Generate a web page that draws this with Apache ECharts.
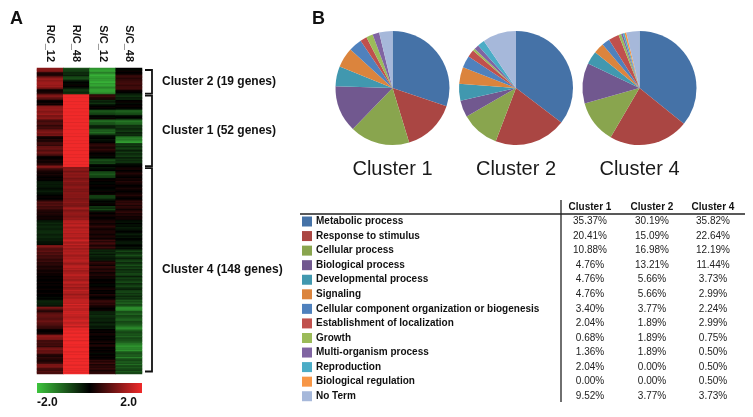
<!DOCTYPE html>
<html>
<head>
<meta charset="utf-8">
<script src="https://cdn.jsdelivr.net/npm/echarts@6/dist/echarts.min.js"></script>
<style>
html,body{margin:0;padding:0;background:#fff;}
#chart{width:753px;height:417px;}
</style>
</head>
<body>
<div id="chart"></div>
<script>
// ---------- Heatmap data ----------
const conditions = ['R/C_12', 'R/C_48', 'S/C_12', 'S/C_48'];
const clusterNames = ['Cluster 2 (19 genes)', 'Cluster 1 (52 genes)', 'Cluster 4 (148 genes)'];
const clusterSizes = [19, 52, 148];

// R/C_12
const rc12_c2 = [1.1,1.2,1.0,0.4,0.2,0.3,0.8,1.2,1.3,1.2,1.3,1.4,1.2,1.3,1.1,0.3,0.1,0.2,0.4];
const rc12_c1 = [1.0,1.1,0.9,0.6,0.1,0.0,0.2,0.1,1.1,1.2,1.3,1.2,1.1,1.2,1.3,1.0,1.1,1.2,0.6,0.5,0.7,0.6,0.4,0.6,0.5,0.9,1.0,1.1,0.9,1.0,0.2,0.1,0.3,0.2,0.5,0.6,0.4,0.8,0.9,0.8,0.7,0.9,0.8,0.6,0.1,0.0,0.1,0.2,0.1,0.3,0.4,1.1];
const rc12_c4 = [1.0,0.5,0.3,0.2,0.1,0.2,0.1,0.0,0.1,0.0,-0.2,-0.3,-0.2,-0.3,-0.2,-0.1,-0.2,-0.3,-0.2,-0.1,0.0,0.1,0.0,0.1,0.5,0.7,0.6,0.7,0.5,0.6,0.4,0.3,0.2,0.3,0.2,0.1,0.2,0.1,-0.2,-0.3,-0.4,-0.3,-0.4,-0.4,-0.3,-0.4,-0.5,-0.4,-0.3,-0.4,-0.4,-0.3,-0.3,-0.2,-0.2,-0.1,1.2,0.9,0.7,0.7,0.8,0.6,0.7,0.5,0.6,0.5,0.4,0.5,0.3,0.4,0.3,0.2,0.3,0.2,0.1,0.2,0.1,0.1,0.0,0.1,0.0,0.0,0.1,0.0,0.1,0.0,0.0,0.1,0.0,0.0,0.1,0.0,0.0,-0.1,0.0,-0.3,-0.4,-0.3,-0.3,-0.2,1.0,0.9,0.4,0.3,0.7,0.8,0.9,0.8,0.7,0.8,0.9,0.8,0.7,0.6,0.5,0.4,0.1,0.0,0.1,0.2,1.1,1.2,1.1,1.0,0.5,0.6,0.5,0.6,0.4,0.9,1.0,0.8,0.9,0.7,0.3,0.2,0.4,0.3,0.2,0.3,0.5,1.0,1.1,0.9,0.6,0.5,0.7,0.6];

// R/C_48
const rc48_c2 = [-0.8,-0.7,-0.6,-0.4,-0.5,-0.3,-0.7,-0.8,-0.6,-0.2,0.0,-0.1,0.1,0.0,-0.2,-0.5,-0.6,-0.4,-0.5];
const rc48_c1 = [2.2,2.1,2.3,2.2,2.4,2.1,2.2,2.3,2.2,2.1,2.3,2.2,2.4,2.2,2.1,2.3,2.2,2.2,2.1,2.3,2.2,2.4,2.1,2.2,2.3,2.2,2.1,2.2,2.3,2.4,2.2,2.1,2.3,2.2,2.2,2.1,2.3,2.2,2.4,2.1,2.2,2.3,2.2,2.1,2.2,2.3,2.2,2.4,2.1,2.2,2.3,2.2];
const rc48_c4 = [1.1,1.2,1.1,1.0,1.2,1.1,1.2,1.1,1.0,1.1,1.2,1.1,1.0,1.1,1.2,1.1,1.1,1.0,1.2,1.1,1.1,1.2,1.0,1.1,1.1,1.2,1.1,1.0,1.1,1.4,1.2,1.1,1.2,1.3,1.2,1.1,1.3,1.2,
  1.5,1.6,1.4,1.7,1.5,1.4,1.6,1.5,1.7,1.4,1.5,1.6,1.4,1.5,1.7,1.5,1.4,1.6,
  1.4,1.5,1.3,1.5,1.4,1.6,1.4,1.3,1.5,1.4,1.6,1.5,1.4,1.3,1.5,1.7,1.4,1.5,1.3,1.4,1.5,1.6,1.4,1.5,1.3,1.4,1.6,1.5,1.4,1.5,1.3,1.4,1.6,1.5,1.4,1.3,1.5,1.4,1.6,
  1.6,1.7,1.5,1.8,1.6,1.7,1.6,1.5,1.7,1.8,1.6,1.7,1.5,1.6,1.8,1.7,1.6,1.7,1.8,1.6,1.9,
  1.9,2.0,1.9,2.1,2.0,1.9,2.0,2.1,1.9,2.0,2.2,2.0,1.9,2.1,2.0,2.0,1.9,2.1,2.0,2.2,2.0,1.9,2.0,2.1,2.0,1.9,2.0,2.1,2.0,1.9,2.0,2.1];

// S/C_12
const sc12_c2 = [-1.5,-1.7,-1.6,-1.3,-1.6,-1.8,-1.7,-1.5,-1.6,-1.7,-1.8,-1.6,-1.7,-1.5,-1.4,-1.6,-1.7,-1.5,-1.3];
const sc12_c1 = [0.4,0.5,0.3,0.2,-0.4,-0.3,-0.5,-0.2,0.0,0.1,0.0,-0.8,-0.9,-0.7,-0.6,0.0,-0.1,0.1,-1.0,-1.1,-0.9,-0.8,-0.4,-0.3,-0.5,-1.0,-0.9,-1.1,-0.7,-0.2,-0.1,0.0,-0.2,-0.1,0.0,0.3,0.4,0.3,0.2,0.4,0.3,0.1,0.0,0.1,-0.1,0.0,-0.7,-0.8,-0.6,-0.7,-0.1,0.0];
const sc12_c4 = [-0.2,-0.1,0.0,-0.7,-0.8,-0.9,-0.7,-0.6,0.0,0.1,0.0,-0.1,0.0,0.1,0.0,0.0,-0.1,0.1,0.0,0.1,-0.6,-0.7,-0.5,-0.3,0.0,-0.1,0.1,0.0,-0.6,-0.4,-0.7,-0.3,0.1,0.0,0.2,0.1,0.0,0.1,0.2,0.3,0.1,0.2,0.4,0.3,0.1,0.2,0.3,0.2,0.1,0.3,0.2,0.1,0.5,0.3,0.6,0.4,0.2,0.5,0.3,-0.4,-0.3,-0.5,-0.2,-0.4,-0.3,-0.2,-0.3,0.2,0.4,0.3,0.1,0.5,0.3,0.2,0.4,0.1,0.2,0.3,0.1,0.2,0.0,0.0,0.1,0.0,-0.1,0.0,0.1,0.2,0.0,0.1,0.0,0.3,0.1,0.0,0.1,0.4,0.5,0.3,0.4,0.2,0.1,0.0,0.1,-0.3,-0.4,-0.3,-0.5,-0.4,-0.3,-0.4,-0.3,-0.2,-0.4,-0.3,-0.2,-0.3,0.0,0.1,0.0,0.2,0.1,0.0,0.1,0.0,0.1,0.2,0.0,0.3,0.2,0.0,0.1,0.0,0.1,-0.1,0.0,0.1,0.0,0.1,0.4,0.3,0.5,0.2,0.4,0.3,0.5,0.2,0.3,0.4];

// S/C_48
const sc48_c2 = [0.0,-0.1,0.1,0.0,0.1,0.4,0.5,0.3,0.4,0.5,0.5,0.6,0.4,0.5,0.6,0.4,0.1,0.0,-0.2];
const sc48_c1 = [-0.4,-0.5,-0.3,-0.4,0.0,0.1,-0.1,0.0,0.1,0.0,-0.1,-0.9,-1.0,-0.8,-0.7,-0.1,0.0,-0.2,-1.0,-1.2,-1.1,-0.9,-0.5,-0.6,-0.4,-0.5,-0.6,-0.3,-0.5,-0.4,-1.1,-1.3,-1.2,-1.5,-1.6,-0.5,-0.6,-0.4,-0.7,-0.5,-0.3,-0.6,-0.4,-0.5,-0.6,-0.3,-0.5,-0.4,-0.6,-0.2,-0.1,0.0];
const sc48_c4 = [0.1,0.2,0.0,0.1,0.3,0.2,0.1,0.0,0.2,0.1,0.3,0.2,0.1,0.0,0.1,0.2,0.1,0.0,0.1,0.2,0.3,0.1,0.0,0.1,
  0.4,0.3,0.5,0.2,0.4,0.3,0.1,0.3,0.4,0.2,0.3,0.1,0.2,0.1,
  -0.1,-0.2,0.0,-0.2,-0.1,-0.3,-0.2,-0.1,0.0,-0.2,-0.3,-0.1,-0.2,0.0,-0.1,-0.2,-0.3,-0.1,0.0,-0.2,-0.1,
  -0.5,-0.7,-0.4,-0.6,-0.8,-0.5,-0.3,-0.6,-0.7,-0.4,-0.6,-0.8,-0.5,-0.7,-0.4,-0.6,-0.5,-0.8,-0.6,-0.3,-0.7,-0.5,-0.6,-0.8,-0.4,-0.6,-0.7,-0.5,-0.3,-0.6,-0.8,-0.5,-0.7,-0.4,-0.6,-0.5,
  -0.9,-0.8,-1.0,-0.7,-0.9,-1.4,-1.5,-1.3,-0.8,-0.9,-1.0,-0.7,-0.8,-0.9,-1.1,-0.7,-0.8,-0.9,-1.0,-1.3,-1.4,-1.2,-0.8,-0.7,-0.9,-0.8,-1.0,-0.7,-0.8,-0.9,-1.0,-1.2,-1.4,-1.5,-1.4,-1.3,-1.5,-0.9,-0.8,-1.0,-0.9,-1.3,-0.8,-0.7,-1.0,-0.8,-1.1,-0.7,-0.9,-0.8,-0.6,-0.9,-0.7];

const colorbarTicks = ['-2.0', '2.0'];

// ---------- GO category data ----------
const goCategories = ['Metabolic process','Response to stimulus','Cellular process','Biological process','Developmental process','Signaling','Cellular component organization or biogenesis','Establishment of localization','Growth','Multi-organism process','Reproduction','Biological regulation','No Term'];
const goColors = ['#4572A7','#AA4643','#89A54E','#71588F','#4198AF','#DB843D','#4F81BD','#C0504D','#9BBB59','#8064A2','#4BACC6','#F79646','#A6B8DA'];
const tableHeaders = ['Cluster 1', 'Cluster 2', 'Cluster 4'];
const cluster1Pct = [35.37,20.41,10.88,4.76,4.76,4.76,3.40,2.04,0.68,1.36,2.04,0.00,9.52];
const cluster2Pct = [30.19,15.09,16.98,13.21,5.66,5.66,3.77,1.89,1.89,1.89,0.00,0.00,3.77];
const cluster4Pct = [35.82,22.64,12.19,11.44,3.73,2.99,2.24,2.99,0.75,0.50,0.50,0.50,3.73];
// pies as drawn in the figure (label under each pie)
const pieLabels = ['Cluster 1', 'Cluster 2', 'Cluster 4'];
const pieShares = [cluster2Pct, cluster1Pct, cluster4Pct];

// ---------- build ----------
const FONT = 'Liberation Sans, Arial, Helvetica, sans-serif';
const cols = [
  rc12_c2.concat(rc12_c1, rc12_c4),
  rc48_c2.concat(rc48_c1, rc48_c4),
  sc12_c2.concat(sc12_c1, sc12_c4),
  sc48_c2.concat(sc48_c1, sc48_c4)
];
const nRows = clusterSizes.reduce((a, b) => a + b, 0);
const rowNames = [];
for (let i = 0; i < nRows; i++) rowNames.push('g' + i);
const heatData = [];
cols.forEach((c, x) => c.forEach((v, y) => heatData.push([x, y, v])));

const GRID = {left: 37, top: 68, width: 105, height: 306};
const rowH = GRID.height / nRows;

const graphics = [];
graphics.push({type: 'text', left: 10, top: 10, style: {text: 'A', font: 'bold 18px ' + FONT, fill: '#111'}});
graphics.push({type: 'text', left: 312, top: 10, style: {text: 'B', font: 'bold 18px ' + FONT, fill: '#111'}});

// brackets + cluster labels
let acc = 0;
clusterSizes.forEach((n, i) => {
  const y0 = GRID.top + acc * rowH + (i === 0 ? 2 : 1);
  const y1 = GRID.top + (acc + n) * rowH - (i === clusterSizes.length - 1 ? 2.5 : 1);
  graphics.push({type: 'polyline', shape: {points: [[145, y0], [152, y0], [152, y1], [145, y1]]},
    style: {stroke: '#111', lineWidth: 1.8, fill: null}});
  graphics.push({type: 'text', x: 162, y: (y0 + y1) / 2,
    style: {text: clusterNames[i], font: 'bold 12px ' + FONT, fill: '#111', textVerticalAlign: 'middle'}});
  acc += n;
});

// color bar
graphics.push({type: 'rect', shape: {x: 37, y: 383, width: 105, height: 10},
  style: {fill: new echarts.graphic.LinearGradient(0, 0, 1, 0, [
    {offset: 0, color: '#3dc43d'}, {offset: 0.5, color: '#000000'}, {offset: 1, color: '#f02a2a'}])}});
graphics.push({type: 'text', x: 37, y: 403, style: {text: colorbarTicks[0], font: 'bold 12px ' + FONT, fill: '#111', textVerticalAlign: 'middle', textAlign: 'left'}});
graphics.push({type: 'text', x: 137, y: 403, style: {text: colorbarTicks[1], font: 'bold 12px ' + FONT, fill: '#111', textVerticalAlign: 'middle', textAlign: 'right'}});

// pie labels
const pieCenters = [[392.5, 88], [516, 88], [639.5, 88]];
pieLabels.forEach((t, i) => graphics.push({type: 'text', x: pieCenters[i][0], y: 169,
  style: {text: t, font: '20px ' + FONT, fill: '#1a1a1a', textAlign: 'center', textVerticalAlign: 'middle'}}));

// table
const colX = [590, 652, 713];
const rowY0 = 221.5, rowStep = 14.56;
graphics.push({type: 'line', shape: {x1: 300, y1: 214, x2: 745, y2: 214}, style: {stroke: '#222', lineWidth: 1.3}});
graphics.push({type: 'line', shape: {x1: 561, y1: 200, x2: 561, y2: 402}, style: {stroke: '#222', lineWidth: 1.3}});
tableHeaders.forEach((h, j) => graphics.push({type: 'text', x: colX[j], y: 207.5,
  style: {text: h, font: 'bold 10px ' + FONT, fill: '#111', textAlign: 'center', textVerticalAlign: 'middle'}}));
[cluster1Pct, cluster2Pct, cluster4Pct].forEach((arr, j) => arr.forEach((v, i) => graphics.push({type: 'text',
  x: colX[j], y: rowY0 + i * rowStep,
  style: {text: v.toFixed(2) + '%', font: '10px ' + FONT, fill: '#222', textAlign: 'center', textVerticalAlign: 'middle'}})));

const pieSeries = pieShares.map((arr, k) => ({
  type: 'pie', center: pieCenters[k], radius: 57, startAngle: 90, clockwise: true,
  label: {show: false}, labelLine: {show: false}, emphasis: {disabled: true}, silent: true,
  itemStyle: {borderWidth: 0},
  data: goCategories.map((name, i) => ({name: name, value: arr[i], itemStyle: {color: goColors[i]}}))
}));

const chart = echarts.init(document.getElementById('chart'), null, {renderer: 'canvas'});
chart.setOption({
  animation: false,
  backgroundColor: '#fff',
  textStyle: {fontFamily: FONT},
  grid: Object.assign({show: true, backgroundColor: '#000', borderWidth: 0}, GRID),
  xAxis: {type: 'category', data: conditions, position: 'top',
    axisLine: {show: false}, axisTick: {show: false}, splitLine: {show: false},
    axisLabel: {rotate: 90, margin: 6, fontSize: 11, fontWeight: 'bold', color: '#111', fontFamily: FONT}},
  yAxis: {type: 'category', data: rowNames, inverse: true, show: false},
  visualMap: {type: 'continuous', min: -2, max: 2, show: false, seriesIndex: 0,
    inRange: {color: ['#3dc43d', '#000000', '#f02a2a']}},
  legend: {orient: 'vertical', left: 302, top: 216.5, itemWidth: 10, itemHeight: 10, itemGap: 4.56,
    icon: 'rect', selectedMode: false, padding: 0,
    textStyle: {fontSize: 10, fontWeight: 'bold', color: '#111', fontFamily: FONT, padding: [0, 0, 0, -1]},
    data: goCategories},
  series: [{type: 'heatmap', data: heatData, progressive: 0, emphasis: {disabled: true}, silent: true,
    itemStyle: {borderWidth: 0}}].concat(pieSeries),
  graphic: graphics
});
</script>
</body>
</html>
